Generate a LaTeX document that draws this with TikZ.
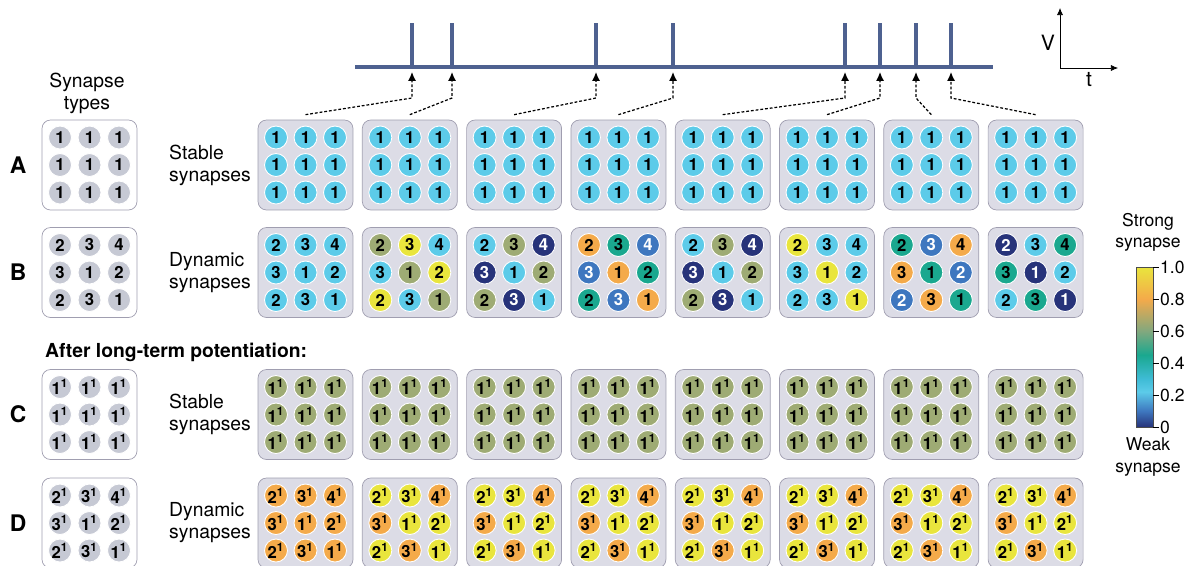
\documentclass[tikz,border=0pt]{standalone}
\usepackage{fontspec}
\setmainfont{TeX Gyre Heros}
\usetikzlibrary{arrows.meta}
% Couleurs
\definecolor{trait}{HTML}{4E6190}
\definecolor{fond}{HTML}{DCDCE6}
\definecolor{bord}{HTML}{A09EB0}
\definecolor{cGris}{HTML}{C6C9D4}
\definecolor{cCyan}{HTML}{5CCBE9}
\definecolor{cOlive}{HTML}{9EAB74}
\definecolor{cJaune}{HTML}{E9E53D}
\definecolor{cNavy}{HTML}{27337A}
\definecolor{cOrange}{HTML}{F4AA4A}
\definecolor{cTeal}{HTML}{1AA88F}
\definecolor{cBleu}{HTML}{3E77BF}
\definecolor{cCT}{HTML}{3FBCD6}
\definecolor{cOT}{HTML}{82A87E}
\pgfdeclareverticalshading{echelle}{100bp}{color(0bp)=(cNavy); color(25bp)=(cNavy); color(30bp)=(cBleu); color(36bp)=(cCyan); color(40bp)=(cCT); color(47.5bp)=(cTeal); color(55bp)=(cOT); color(65bp)=(cOrange); color(75bp)=(cJaune); color(100bp)=(cJaune)}
\begin{document}
\begin{tikzpicture}[x=0.02cm,y=-0.02cm]
% Styles
\tikzstyle{boite}=[draw=bord,fill=fond,thin,rounded corners=0.17cm,minimum width=1.9cm,minimum height=1.8cm]
\tikzstyle{type}=[boite,fill=white]
\tikzstyle{syn}=[circle,draw=white,line width=0.5pt,minimum size=0.46cm,inner sep=0pt,font=\fontsize{9.5}{10}\selectfont\bfseries]
\tikzstyle{sGr}=[fill=cGris]
\tikzstyle{sCy}=[fill=cCyan]
\tikzstyle{sOl}=[fill=cOlive]
\tikzstyle{sJa}=[fill=cJaune]
\tikzstyle{sOr}=[fill=cOrange]
\tikzstyle{sTe}=[fill=cTeal]
\tikzstyle{sNa}=[fill=cNavy,text=white]
\tikzstyle{sBl}=[fill=cBleu,text=white]
\tikzstyle{fleche}=[-{Latex[length=5pt,width=4.5pt]},line width=0.7pt,dash pattern=on 1.6pt off 1.1pt]
\tikzstyle{axe}=[-{Latex[length=4pt,width=3.5pt]},thin]
\tikzstyle{pic}=[trait,line width=1.9pt]
\tikzstyle{titre}=[align=left,anchor=west,font=\fontsize{11}{12.5}\selectfont]
\tikzstyle{lettre}=[font=\fontsize{13}{15}\selectfont\bfseries]
\tikzstyle{graduation}=[font=\fontsize{10}{12}\selectfont]
\useasboundingbox (0,0) rectangle (1192,565);
% Dimensions
\def\dx{104.3}
\def\xun{305.5}
\def\xtype{89.5}
\def\px{29.5}
\def\py{27.5}
\def\yA{165}
\def\yB{272.5}
\def\yC{414.5}
\def\yD{523}
% Motifs de couleurs
\def\tousGr{sGr,sGr,sGr,sGr,sGr,sGr,sGr,sGr,sGr}
\def\tousCy{sCy,sCy,sCy,sCy,sCy,sCy,sCy,sCy,sCy}
\def\tousOl{sOl,sOl,sOl,sOl,sOl,sOl,sOl,sOl,sOl}
\def\tousOr{sOr,sOr,sOr,sOr,sOr,sOr,sOr,sOr,sOr}
\def\motifD{sJa,sJa,sOr,sOr,sJa,sJa,sJa,sOr,sJa}
% Grille 3x3 : nom, x, y, couleurs, chiffres, exposant
\def\grille#1#2#3#4#5#6{%
  \foreach \coul [count=\n from 0] in #4 {
    \pgfmathtruncatemacro\col{mod(\n,3)-1}
    \pgfmathtruncatemacro\lig{int(\n/3)-1}
    \pgfmathtruncatemacro\chif{{#5}[\n]}
    \node[syn,\coul] (#1-\n) at ({#2+\col*\px},{#3+\lig*\py}) {\chif#6};
  }}
% Titre de la colonne
\node[align=center,font=\fontsize{11}{12.5}\selectfont] (types) at (87,93) {Synapse\\types};
% Ligne A
\node[lettre] (lA) at (18,\yA) {A};
\node[titre] (tA) at (163,\yA) {Stable\\synapses};
\node[type] (A0) at (\xtype,\yA) {};
\grille{A0}{\xtype}{\yA}{\tousGr}{1,1,1,1,1,1,1,1,1}{}
\foreach \i in {1,...,8} {
  \node[boite] (A\i) at ({\xun+(\i-1)*\dx},\yA) {};
  \grille{A\i}{\xun+(\i-1)*\dx}{\yA}{\tousCy}{1,1,1,1,1,1,1,1,1}{}
}
% Ligne B
\node[lettre] (lB) at (18,\yB) {B};
\node[titre] (tB) at (163,\yB) {Dynamic\\synapses};
\node[type] (B0) at (\xtype,\yB) {};
\grille{B0}{\xtype}{\yB}{\tousGr}{2,3,4,3,1,2,2,3,1}{}
\foreach \motif [count=\i] in {%
  {sCy,sCy,sCy,sCy,sCy,sCy,sCy,sCy,sCy},
  {sOl,sJa,sCy,sCy,sOl,sJa,sJa,sCy,sOl},
  {sCy,sOl,sNa,sNa,sCy,sOl,sOl,sNa,sCy},
  {sOr,sTe,sBl,sBl,sOr,sTe,sTe,sBl,sOr},
  {sCy,sOl,sNa,sNa,sCy,sOl,sOl,sNa,sCy},
  {sJa,sCy,sCy,sCy,sJa,sCy,sCy,sCy,sJa},
  {sTe,sBl,sOr,sOr,sTe,sBl,sBl,sOr,sTe},
  {sNa,sCy,sTe,sTe,sNa,sCy,sCy,sTe,sNa}} {
  \node[boite] (B\i) at ({\xun+(\i-1)*\dx},\yB) {};
  \grille{B\i}{\xun+(\i-1)*\dx}{\yB}{\motif}{2,3,4,3,1,2,2,3,1}{}
}
% Après potentiation
\node[anchor=west,font=\fontsize{11}{13}\selectfont\bfseries] (ltp) at (39,352) {After long-term potentiation:};
% Ligne C
\node[lettre] (lC) at (18,\yC) {C};
\node[titre] (tC) at (163,\yC) {Stable\\synapses};
\node[type] (C0) at (\xtype,\yC) {};
\grille{C0}{\xtype}{\yC}{\tousGr}{1,1,1,1,1,1,1,1,1}{\textsuperscript{1}}
\foreach \i in {1,...,8} {
  \node[boite] (C\i) at ({\xun+(\i-1)*\dx},\yC) {};
  \grille{C\i}{\xun+(\i-1)*\dx}{\yC}{\tousOl}{1,1,1,1,1,1,1,1,1}{\textsuperscript{1}}
}
% Ligne D
\node[lettre] (lD) at (18,\yD) {D};
\node[titre] (tD) at (163,\yD) {Dynamic\\synapses};
\node[type] (D0) at (\xtype,\yD) {};
\grille{D0}{\xtype}{\yD}{\tousGr}{2,3,4,3,1,2,2,3,1}{\textsuperscript{1}}
\foreach \i in {1,...,8} {
  \ifnum\i=1 \let\motif\tousOr\else \let\motif\motifD\fi
  \node[boite] (D\i) at ({\xun+(\i-1)*\dx},\yD) {};
  \grille{D\i}{\xun+(\i-1)*\dx}{\yD}{\motif}{2,3,4,3,1,2,2,3,1}{\textsuperscript{1}}
}
% Train de potentiels
\draw[pic] (355,67) -- (993,67);
\foreach \xs [count=\i] in {412,452,596,673,845,880,916,951} {
  \draw[pic] (\xs,67) -- (\xs,23);
  \coordinate (k\i) at (\xs,98);
  \coordinate (s\i) at (\xs,72);
  \draw[fleche] ([yshift=0.1cm]A\i.north) -- (k\i) -- (s\i);
}
% Axes V, t
\coordinate (O) at (1060,68);
\coordinate (Vh) at (1060,8);
\coordinate (td) at (1118,68);
\draw[axe] (O) -- (Vh);
\draw[axe] (O) -- (td);
\node[font=\fontsize{12}{14}\selectfont] (V) at (1048,43) {V};
\node[font=\fontsize{12}{14}\selectfont] (t) at (1089,80) {t};
% Echelle de couleurs
\shadedraw[shading=echelle,draw=black!70,thin] (1136,267) rectangle (1153,427);
\foreach \v/\lab [count=\j] in {0/0,0.2/0.2,0.4/0.4,0.6/0.6,0.8/0.8,1/1.0} {
  \draw[thin] (1153,{427-160*\v}) -- (1159,{427-160*\v});
  \node[graduation,anchor=west,inner sep=1pt] (g\j) at (1158,{427-160*\v}) {\lab};
}
\node[graduation,align=center] (fort) at (1148,232) {Strong\\synapse};
\node[graduation,align=center] (faible) at (1148,457) {Weak\\synapse};
\end{tikzpicture}
\end{document}
